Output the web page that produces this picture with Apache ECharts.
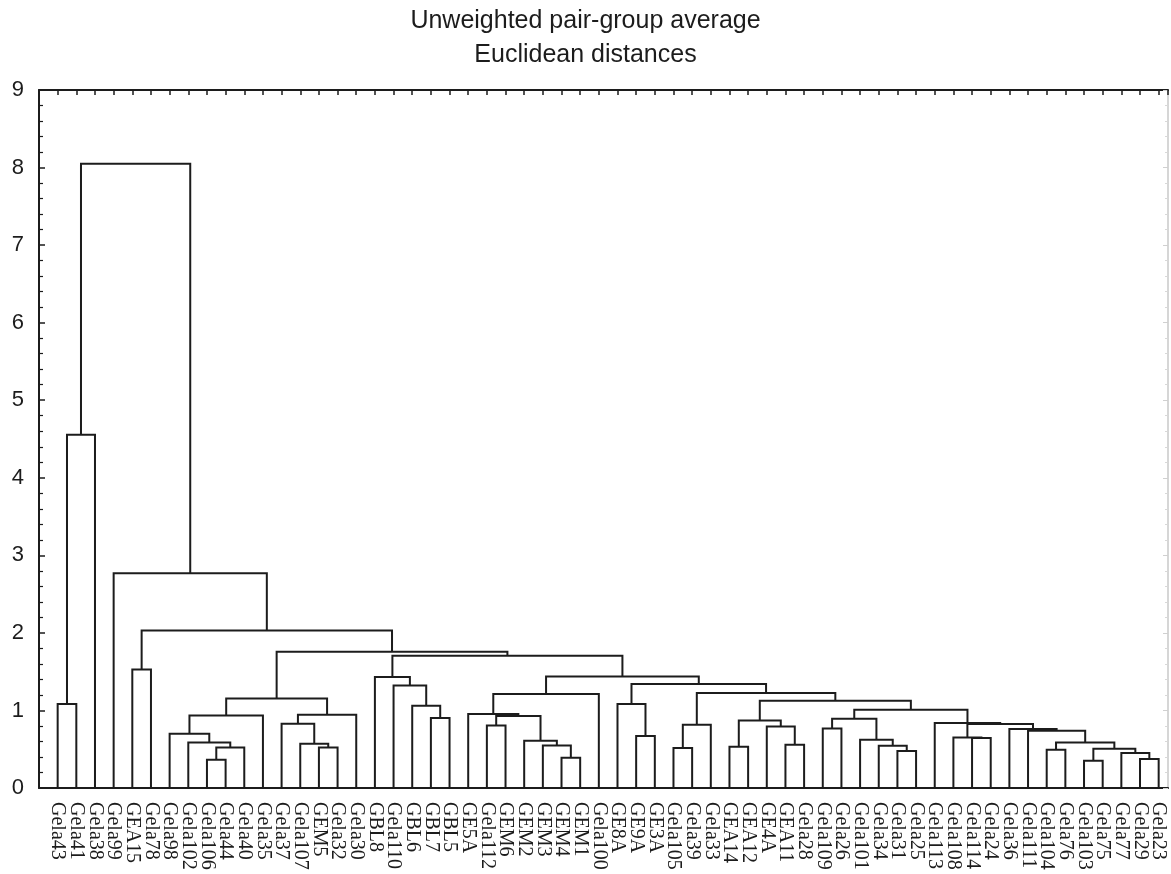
<!DOCTYPE html>
<html><head><meta charset="utf-8">
<script src="https://cdn.jsdelivr.net/npm/echarts@6/dist/echarts.min.js"></script>
<style>html,body{margin:0;padding:0;background:#fff}#c{width:1171px;height:874px}</style>
</head><body><div id="c"></div>
<script>
// Leaves in dendrogram order (left to right)
const leafLabels = ['Gela43','Gela41','Gela38','Gela99','GEA15','Gela78','Gela98','Gela102','Gela106','Gela44',
 'Gela40','Gela35','Gela37','Gela107','GEM5','Gela32','Gela30','GBL8','Gela110','GBL6',
 'GBL7','GBL5','GE5A','Gela112','GEM6','GEM2','GEM3','GEM4','GEM1','Gela100',
 'GE8A','GE9A','GE3A','Gela105','Gela39','Gela33','GEA14','GEA12','GE4A','GEA11',
 'Gela28','Gela109','Gela26','Gela101','Gela34','Gela31','Gela25','Gela113','Gela108','Gela114',
 'Gela24','Gela36','Gela111','Gela104','Gela76','Gela103','Gela75','Gela77','Gela29','Gela23'];

// Linkage: strings = leaves, numbers = index of an earlier merge
const linkLeft  = ['Gela43',0,'Gela106',2,'Gela102','Gela98',5,'GEM5','Gela107','Gela37',
 9,6,'GBL7','GBL6','Gela110','GBL8','GEM4','GEM3','GEM2','Gela112',
 19,'GE5A',21,'GE9A','GE8A','Gela105',25,'GEA14','GEA11','GE4A',
 27,'Gela109','Gela31','Gela34','Gela101',31,'Gela114','Gela108','Gela104','Gela103',
 'Gela29','Gela77',39,38,'Gela111','Gela36',37,'Gela113',35,30,
 26,24,22,15,11,'GEA15',55,'Gela99',1];
const linkRight = ['Gela41','Gela38','Gela44','Gela40',3,4,'Gela35','Gela32',7,8,
 'Gela30',10,'GBL5',12,13,14,'GEM1',16,17,'GEM6',
 18,20,'Gela100','GE3A',23,'Gela39','Gela33','GEA12','Gela28',28,
 29,'Gela26','Gela25',32,33,34,'Gela24',36,'Gela76','Gela75',
 'Gela23',40,41,42,43,44,45,46,47,48,
 49,50,51,52,53,'Gela78',54,56,57];
const linkHeight = [1.082,4.554,0.365,0.523,0.588,0.700,0.936,0.523,0.571,0.829,
 0.945,1.155,0.902,1.060,1.322,1.430,0.390,0.549,0.610,0.807,
 0.928,0.954,1.211,0.670,1.082,0.515,0.816,0.532,0.558,0.794,
 0.871,0.768,0.477,0.545,0.622,0.893,0.644,0.652,0.494,0.352,
 0.374,0.451,0.506,0.588,0.738,0.760,0.825,0.838,1.009,1.125,
 1.224,1.340,1.438,1.705,1.756,1.527,2.030,2.770,8.050];

const titleLines = ['Unweighted pair-group average','Euclidean distances'];
const yMin = 0, yMax = 9, yStep = 1;

// Build dendrogram polylines in data coordinates
const nodeX = {}, nodeH = {};
leafLabels.forEach((l, i) => { nodeX[l] = i + 1; nodeH[l] = 0; });
const key = c => (typeof c === 'number' ? 'm' + c : c);
const segs = [];
for (let k = 0; k < linkHeight.length; k++) {
  const a = key(linkLeft[k]), b = key(linkRight[k]), h = linkHeight[k];
  segs.push({ coords: [[nodeX[a], nodeH[a]], [nodeX[a], h], [nodeX[b], h], [nodeX[b], nodeH[b]]] });
  nodeX['m' + k] = (nodeX[a] + nodeX[b]) / 2;
  nodeH['m' + k] = h;
}

const ink = '#1c1c1c';
const chart = echarts.init(document.getElementById('c'), null, { renderer: 'canvas' });
chart.setOption({
  animation: false,
  backgroundColor: '#fff',
  title: [
    { text: titleLines[0], left: 'center', top: 4,
      textStyle: { fontFamily: 'Liberation Sans', fontWeight: 'normal', fontSize: 25, color: ink } },
    { text: titleLines[1], left: 'center', top: 38,
      textStyle: { fontFamily: 'Liberation Sans', fontWeight: 'normal', fontSize: 25, color: ink } }
  ],
  grid: { left: 39, right: 3, top: 90, bottom: 86, containLabel: false },
  xAxis: [
    { type: 'value', position: 'bottom', min: 0, max: 60.5, interval: 1,
      axisLine: { show: true, onZero: false, lineStyle: { color: ink, width: 2 } },
      axisTick: { show: false },
      splitLine: { show: false },
      axisLabel: { show: true, rotate: -90, margin: 14, fontFamily: 'Liberation Serif', fontSize: 20, color: ink,
        showMinLabel: true, showMaxLabel: true, hideOverlap: false,
        formatter: v => (Number.isInteger(v) && v >= 1 && v <= leafLabels.length) ? leafLabels[v - 1] : '' } },
    { type: 'value', position: 'top', min: 0, max: 60.5, interval: 1,
      axisLine: { show: true, onZero: false, lineStyle: { color: ink, width: 2 } },
      axisTick: { show: true, inside: true, length: 5, lineStyle: { color: ink, width: 1.5 } },
      axisLabel: { show: false }, splitLine: { show: false } }
  ],
  yAxis: [
    { type: 'value', position: 'left', min: yMin, max: yMax, interval: yStep,
      axisLine: { show: true, onZero: false, lineStyle: { color: ink, width: 2 } },
      axisTick: { show: true, inside: true, length: 6, lineStyle: { color: ink, width: 1.5 } },
      minorTick: { show: true, splitNumber: 5, length: 4, lineStyle: { color: ink, width: 1.2 } },
      axisLabel: { show: true, margin: 15, fontFamily: 'Liberation Sans', fontSize: 22, color: ink },
      splitLine: { show: false } },
    { type: 'value', position: 'right', min: yMin, max: yMax, interval: yStep,
      axisLine: { show: true, onZero: false, lineStyle: { color: '#c8c8c8', width: 1.5 } },
      axisTick: { show: true, inside: true, length: 5, lineStyle: { color: '#d0d0d0', width: 1 } },
      minorTick: { show: true, splitNumber: 5, length: 3, lineStyle: { color: '#d8d8d8', width: 1 } },
      axisLabel: { show: false }, splitLine: { show: false } }
  ],
  series: [{
    type: 'lines', coordinateSystem: 'cartesian2d', xAxisIndex: 0, yAxisIndex: 0,
    polyline: true, silent: true,
    lineStyle: { color: ink, width: 2, opacity: 1 },
    data: segs
  }]
});
</script>
</body></html>
